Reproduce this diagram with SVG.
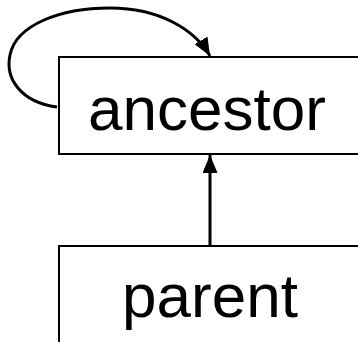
<svg xmlns="http://www.w3.org/2000/svg" width="358" height="342" viewBox="0 0 358 342">
<style>
.box{fill:#fff;stroke:#000;stroke-width:2}
.lbl{font-family:"Liberation Sans",Arial,sans-serif;font-size:62px;fill:#000;text-anchor:middle}
.edge{fill:none;stroke:#000;stroke-width:3}
</style>
<defs>
<marker id="ah" viewBox="0 0 18 15" refX="18" refY="7.5" markerWidth="18" markerHeight="15" markerUnits="userSpaceOnUse" orient="auto">
<path d="M0,0 L18,7.5 L0,15 Z" fill="#000"/>
</marker>
</defs>
<g id="ancestor">
<rect class="box" x="59" y="57" width="304" height="97"/>
<text class="lbl" x="207" y="130">ancestor</text>
</g>
<g id="parent">
<rect class="box" x="59" y="246" width="304" height="120"/>
<text class="lbl" x="210" y="317">parent</text>
</g>
<g id="connectors">
<path class="edge" d="M210,246 L210,155" marker-end="url(#ah)"/>
<path class="edge" d="M57,107 C 20,102 5,78 10,55 C 16,25 60,8 110,8 C 160,8 195,30 210,56" marker-end="url(#ah)"/>
</g>
</svg>
